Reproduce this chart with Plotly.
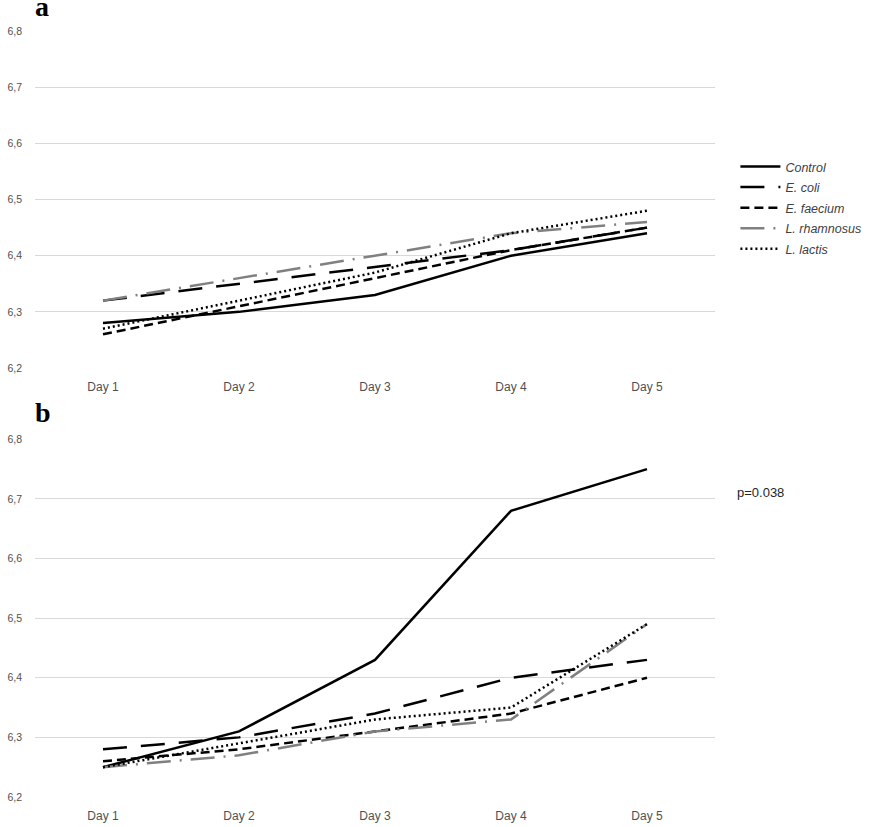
import plotly.graph_objects as go
from plotly.subplots import make_subplots

days = ["Day 1", "Day 2", "Day 3", "Day 4", "Day 5"]
series_names = ["Control", "E. coli", "E. faecium", "L. rhamnosus", "L. lactis"]

# panel a
a_control = [6.28, 6.30, 6.33, 6.40, 6.44]
a_ecoli = [6.32, 6.35, 6.38, 6.41, 6.45]
a_efaecium = [6.26, 6.31, 6.36, 6.41, 6.45]
a_lrhamnosus = [6.32, 6.36, 6.40, 6.44, 6.46]
a_llactis = [6.27, 6.32, 6.37, 6.44, 6.48]

# panel b
b_control = [6.25, 6.31, 6.43, 6.68, 6.75]
b_ecoli = [6.28, 6.30, 6.34, 6.40, 6.43]
b_efaecium = [6.26, 6.28, 6.31, 6.34, 6.40]
b_lrhamnosus = [6.25, 6.27, 6.31, 6.33, 6.49]
b_llactis = [6.25, 6.29, 6.33, 6.35, 6.49]

y_ticks = [6.2, 6.3, 6.4, 6.5, 6.6, 6.7, 6.8]

styles = [
    dict(color="black", width=2.5, dash="solid"),
    dict(color="black", width=2.5, dash="24px,14px"),
    dict(color="black", width=2.5, dash="9px,5px"),
    dict(color="#808080", width=2.5, dash="24px,9px,2px,9px"),
    dict(color="black", width=2.5, dash="2px,3px"),
]

fig = make_subplots(rows=2, cols=1)

panel_a = [a_control, a_ecoli, a_efaecium, a_lrhamnosus, a_llactis]
panel_b = [b_control, b_ecoli, b_efaecium, b_lrhamnosus, b_llactis]

for name, vals, st in zip(series_names, panel_a, styles):
    fig.add_trace(go.Scatter(x=days, y=vals, mode="lines",
                             name="<span style='font-size:12.5px'><i>" + name + "</i></span>",
                             line=st, showlegend=True), row=1, col=1)
for name, vals, st in zip(series_names, panel_b, styles):
    fig.add_trace(go.Scatter(x=days, y=vals, mode="lines", name=name,
                             line=st, showlegend=False), row=2, col=1)

x_font = dict(family="Liberation Sans, Arial, sans-serif", size=12, color="#505050")
y_font = dict(family="Liberation Sans, Arial, sans-serif", size=10.5, color="#505050")

for r, dom in [(1, [0.560, 1.0]), (2, [0.0, 0.467])]:
    fig.update_xaxes(row=r, col=1, type="category", range=[-0.5, 4.5], showgrid=False,
                     zeroline=False, showline=False, ticks="", tickfont=x_font,
                     ticklabelstandoff=10, automargin=False)
    fig.update_yaxes(row=r, col=1, domain=dom, range=[6.2, 6.8], tickvals=y_ticks,
                     tickformat=".1f", showgrid=True, gridcolor="#d9d9d9", gridwidth=1,
                     zeroline=False, showline=False, ticks="", tickfont=y_font,
                     ticklabelstandoff=12, automargin=False)

fig.update_layout(
    width=874, height=827,
    margin=dict(l=35, r=159, t=31, b=30, autoexpand=False),
    plot_bgcolor="white", paper_bgcolor="white",
    separators=",.",
    legend=dict(x=1.03, xanchor="left", y=0.843, yanchor="top",
                font=dict(family="Liberation Sans, Arial, sans-serif", size=13.5, color="#404040"),
                tracegroupgap=0, itemwidth=40),
)

fig.add_annotation(text="<b>a</b>", xref="paper", yref="paper", x=-0.003, y=1.0,
                   xanchor="left", yanchor="bottom", yshift=7, showarrow=False,
                   font=dict(family="Liberation Serif, Times New Roman, serif", size=28, color="black"))
fig.add_annotation(text="<b>b</b>", xref="paper", yref="paper", x=-0.003, y=0.467,
                   xanchor="left", yanchor="bottom", yshift=9, showarrow=False,
                   font=dict(family="Liberation Serif, Times New Roman, serif", size=28, color="black"))
fig.add_annotation(text="p=0.038", xref="paper", yref="paper", x=1.03, y=0.397,
                   xanchor="left", yanchor="middle", showarrow=False,
                   font=dict(family="Liberation Sans, Arial, sans-serif", size=13, color="#262626"))

fig.write_html("out.html", config={"displayModeBar": False},
               post_script="document.body.style.margin='0';")
